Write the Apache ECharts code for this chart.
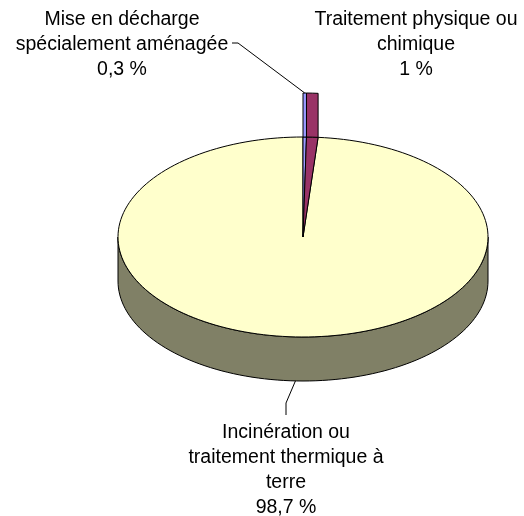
<!DOCTYPE html>
<html>
<head>
<meta charset="utf-8">
<script src="https://cdn.jsdelivr.net/npm/echarts@6/dist/echarts.min.js"></script>
<style>
  html,body{margin:0;padding:0;background:#fff}
  #main{width:524px;height:516px}
</style>
</head>
<body>
<div id="main"></div>
<script>
// données
const categories = ['Mise en décharge\nspécialement aménagée', 'Traitement physique ou\nchimique', 'Incinération ou\ntraitement thermique à\nterre'];
const values = [0.3, 1, 98.7];
const valueLabels = ['0,3 %', '1 %', '98,7 %'];
const colors = ['#9999ff', '#993366', '#ffffcc'];
const sideColors = ['#4d4d80', '#4d1a33', '#808066'];

// mise en page du camembert 3D
const cx = 303, cy = 237, rx = 185, ry = 100, depth = 44;
const labelPos = [[122, 7], [416, 7], [286, 420]];

const total = values.reduce((s, v) => s + v, 0);
const starts = [];
values.reduce((s, v, i) => { starts[i] = s; return s + v; }, 0);

function pt(theta, dy) {
  const a = theta * Math.PI / 180;
  return [cx + rx * Math.sin(a), cy - ry * Math.cos(a) + (dy || 0)];
}
function arc(a0, a1, dy) {
  const n = Math.max(2, Math.ceil((a1 - a0) / 2));
  const p = [];
  for (let i = 0; i <= n; i++) p.push(pt(a0 + (a1 - a0) * i / n, dy));
  return p;
}

function renderItem(params, api) {
  const i = params.dataIndex;
  const a0 = starts[i] / total * 360;
  const a1 = (starts[i] + values[i]) / total * 360;
  const mid = (a0 + a1) / 2;
  const back = Math.cos(mid * Math.PI / 180) > 0;
  const children = [];
  const line = { stroke: '#000', lineWidth: 1 };

  if (!back) {
    // paroi avant
    const s0 = Math.max(a0, 90), s1 = Math.min(a1, 270);
    if (s1 > s0) {
      const pts = arc(s0, s1, 0).concat(arc(s0, s1, depth).reverse());
      children.push({ type: 'polygon', z2: 1, shape: { points: pts }, style: Object.assign({ fill: sideColors[i] }, line) });
    }
    children.push({ type: 'polygon', z2: 2, shape: { points: [[cx, cy]].concat(arc(a0, a1, 0)) }, style: Object.assign({ fill: colors[i] }, line) });
  } else {
    children.push({ type: 'polygon', z2: 5 + i, shape: { points: [[cx, cy]].concat(arc(a0, a1, 0)) }, style: Object.assign({ fill: colors[i] }, line) });
    const pts = arc(a0, a1, 0).concat(arc(a0, a1, -depth).reverse());
    children.push({ type: 'polygon', z2: 5 + i, shape: { points: pts }, style: Object.assign({ fill: colors[i] }, line) });
  }

  // étiquettes
  const txt = categories[i] + '\n' + valueLabels[i];
  children.push({
    type: 'text', z2: 10, x: labelPos[i][0], y: labelPos[i][1],
    style: { text: txt, fill: '#000', fontFamily: 'Liberation Sans', fontSize: 19.5, lineHeight: 25, align: 'center', verticalAlign: 'top' }
  });

  // lignes de rappel
  if (i === 0) {
    const e = pt(mid, -depth);
    children.push({ type: 'polyline', z2: 9, shape: { points: [[232, 43], [238, 43], e] }, style: { stroke: '#000', lineWidth: 1, fill: null } });
  }
  if (i === 2) {
    const e = pt(mid, depth);
    children.push({ type: 'polyline', z2: 9, shape: { points: [e, [286, 403], [286, 415]] }, style: { stroke: '#000', lineWidth: 1, fill: null } });
  }
  return { type: 'group', children: children };
}

const chart = echarts.init(document.getElementById('main'));
chart.setOption({
  backgroundColor: '#fff',
  animation: false,
  series: [{
    type: 'custom',
    coordinateSystem: 'none',
    renderItem: renderItem,
    data: values.map((v, i) => ({ value: v, name: categories[i] }))
  }]
});
</script>
</body>
</html>
